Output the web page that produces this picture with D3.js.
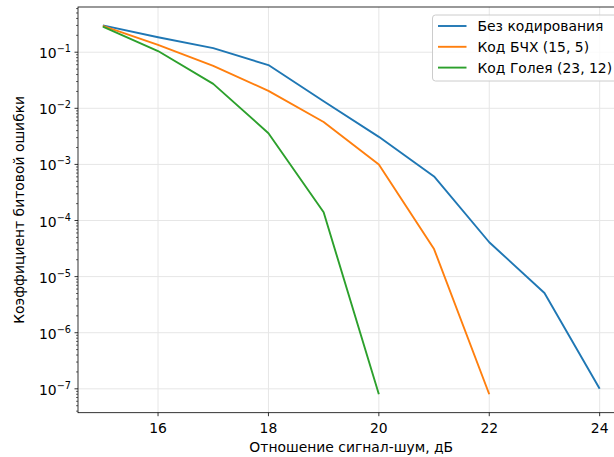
<!doctype html>
<html lang="ru">
<head>
<meta charset="UTF-8" />
<script src="https://d3js.org/d3.v7.min.js"></script>
<style>
  body { margin: 0; background: #fff; }
  text { font-family: "DejaVu Sans", sans-serif; }
</style>
</head>
<body>
<div id="chart"></div>
<script>
// Data
const snr = [15, 16, 17, 18, 19, 20, 21, 22, 23, 24]
const berUncoded = [0.3, 0.185, 0.118, 0.059, 0.0134, 0.0031, 0.00061, 4.1e-5, 5.1e-6, 1e-7]
const berBch = [0.295, 0.135, 0.057, 0.0205, 0.0057, 0.001, 3.1e-5, 8e-8]
const berGolay = [0.285, 0.105, 0.0273, 0.0036, 0.00014, 8e-8]
const seriesNames = ["Без кодирования", "Код БЧХ (15, 5)", "Код Голея (23, 12)"]
const seriesColors = ["#1f77b4", "#ff7f0e", "#2ca02c"]
const xTicks = [16, 18, 20, 22, 24]
const yExponents = [-1, -2, -3, -4, -5, -6, -7]

const W = 614, H = 457
const plot = { left: 78, top: 7, bottom: 412.7, right: 624.5 }
const fs = 13.9

const series = [berUncoded, berBch, berGolay].map((vals, i) => ({
  name: seriesNames[i],
  color: seriesColors[i],
  points: vals.map((v, j) => ({ x: snr[j], y: v }))
}))

// matplotlib-like 5% margins
const allY = series.flatMap(s => s.points.map(p => Math.log10(p.y)))
const lmin = d3.min(allY), lmax = d3.max(allY)
const lm = (lmax - lmin) * 0.05
const xm = (d3.max(snr) - d3.min(snr)) * 0.05

const x = d3.scaleLinear().domain([d3.min(snr) - xm, d3.max(snr) + xm]).range([plot.left, plot.right])
const y = d3.scaleLog().domain([Math.pow(10, lmin - lm), Math.pow(10, lmax + lm)]).range([plot.bottom, plot.top])

const svg = d3.select("#chart").append("svg")
  .attr("width", W).attr("height", H)

// grid
const grid = svg.append("g").attr("stroke", "#e6e6e6").attr("stroke-width", 1)
xTicks.forEach(t => {
  grid.append("line").attr("x1", x(t)).attr("x2", x(t)).attr("y1", plot.top).attr("y2", plot.bottom)
})
yExponents.forEach(e => {
  grid.append("line").attr("x1", plot.left).attr("x2", plot.right)
    .attr("y1", y(Math.pow(10, e))).attr("y2", y(Math.pow(10, e)))
})

// lines
const line = d3.line().x(d => x(d.x)).y(d => y(d.y))
series.forEach(s => {
  svg.append("path")
    .datum(s.points)
    .attr("fill", "none")
    .attr("stroke", s.color)
    .attr("stroke-width", 1.9)
    .attr("stroke-linejoin", "round")
    .attr("d", line)
})

// spines
svg.append("rect")
  .attr("x", plot.left).attr("y", plot.top)
  .attr("width", plot.right - plot.left).attr("height", plot.bottom - plot.top)
  .attr("fill", "none").attr("stroke", "#000").attr("stroke-width", 0.8)

// x ticks
xTicks.forEach(t => {
  svg.append("line").attr("x1", x(t)).attr("x2", x(t)).attr("y1", plot.bottom).attr("y2", plot.bottom + 3.5)
    .attr("stroke", "#000").attr("stroke-width", 0.8)
  svg.append("text").attr("x", x(t)).attr("y", 432.5)
    .attr("text-anchor", "middle").attr("font-size", fs).text(t)
})

// y major ticks
yExponents.forEach(e => {
  const yy = y(Math.pow(10, e))
  svg.append("line").attr("x1", plot.left - 3.5).attr("x2", plot.left).attr("y1", yy).attr("y2", yy)
    .attr("stroke", "#000").attr("stroke-width", 0.8)
  const t = svg.append("text").attr("x", plot.left - 7).attr("y", yy + 6)
    .attr("text-anchor", "end").attr("font-size", fs)
  t.append("tspan").text("10")
  t.append("tspan").attr("font-size", fs * 0.7).attr("dy", -6).text("\u2212" + Math.abs(e))
})

// y minor ticks
const [d0, d1] = y.domain()
for (let k = -9; k <= 0; k++) {
  for (let m = 2; m <= 9; m++) {
    const v = m * Math.pow(10, k)
    if (v < d0 || v > d1) continue
    const yy = y(v)
    svg.append("line").attr("x1", plot.left - 2).attr("x2", plot.left).attr("y1", yy).attr("y2", yy)
      .attr("stroke", "#000").attr("stroke-width", 0.6)
  }
}

// axis labels
svg.append("text").attr("x", (plot.left + plot.right) / 2).attr("y", 452)
  .attr("text-anchor", "middle").attr("font-size", fs).text("Отношение сигнал-шум, дБ")
svg.append("text")
  .attr("transform", `translate(24, ${(plot.top + plot.bottom) / 2}) rotate(-90)`)
  .attr("text-anchor", "middle").attr("font-size", fs).text("Коэффициент битовой ошибки")

// legend
const lg = svg.append("g")
lg.append("rect").attr("x", 432.5).attr("y", 15).attr("width", 184.5).attr("height", 66)
  .attr("rx", 3).attr("fill", "#fff").attr("fill-opacity", 0.8)
  .attr("stroke", "#cccccc").attr("stroke-width", 1)
series.forEach((s, i) => {
  const yy = 26 + i * 20.8
  lg.append("line").attr("x1", 438).attr("x2", 466.5).attr("y1", yy).attr("y2", yy)
    .attr("stroke", s.color).attr("stroke-width", 1.9)
  lg.append("text").attr("x", 477.5).attr("y", yy + 5).attr("font-size", fs).text(s.name)
})
</script>
</body>
</html>
